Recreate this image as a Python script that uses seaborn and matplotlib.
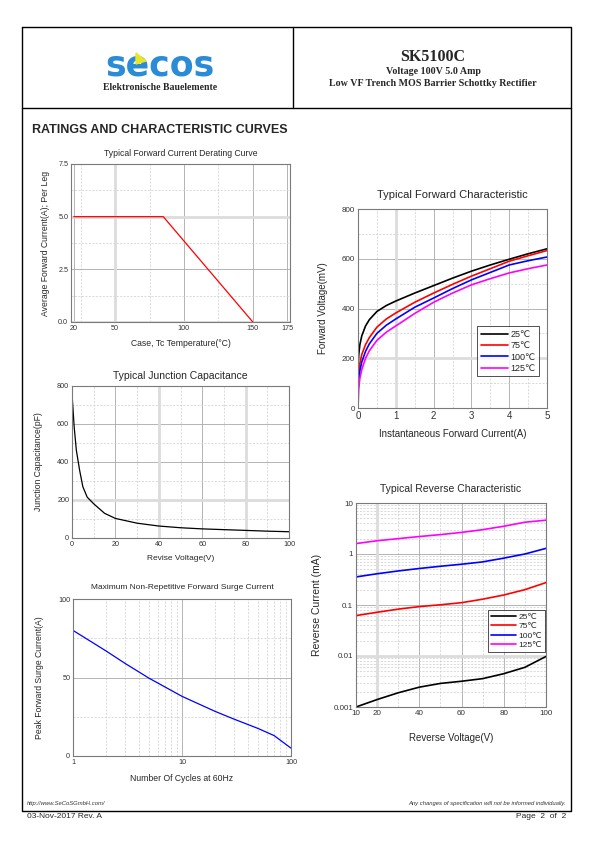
import numpy as np
import pandas as pd
import matplotlib
matplotlib.use('Agg')
import matplotlib.pyplot as plt
import seaborn as sns
from matplotlib.ticker import NullFormatter

# ---- data ----
# derating curve
derate_temp = [20, 85, 150]
derate_curr = [5.0, 5.0, 0.0]

# forward characteristic (current A -> voltage mV)
fwd_current = [0, 0.02, 0.05, 0.1, 0.2, 0.3, 0.5, 0.75, 1, 1.5, 2, 2.5, 3, 3.5, 4, 4.5, 5]
fwd_25 = [165, 215, 255, 290, 330, 355, 388, 412, 430, 462, 492, 522, 550, 575, 598, 620, 640]
fwd_75 = [95, 140, 180, 215, 255, 283, 325, 358, 382, 425, 462, 497, 530, 560, 590, 612, 633]
fwd_100 = [60, 110, 150, 185, 228, 258, 300, 333, 358, 405, 442, 480, 515, 545, 575, 592, 607]
fwd_125 = [0, 80, 120, 155, 200, 230, 272, 305, 330, 380, 425, 462, 495, 520, 543, 560, 575]
temp_labels = ['25\u2103', '75\u2103', '100\u2103', '125\u2103']
temp_colors = ['black', '#ff0000', '#0000ff', '#ff00ff']

# junction capacitance
cap_volt = [0, 1, 2, 3.5, 5, 7, 10, 15, 20, 30, 40, 50, 60, 70, 80, 90, 100]
cap_pf = [760, 585, 462, 357, 270, 215, 180, 130, 103, 78, 63, 54, 48, 44, 40, 36, 33]

# surge current
surge_cycles = [1, 2, 3, 5, 10, 20, 30, 50, 70, 100]
surge_amp = [80, 67, 59, 49.5, 38, 28.5, 23.5, 17.5, 13, 5]

# reverse characteristic (voltage V -> current mA)
rev_volt = [10, 20, 30, 40, 50, 60, 70, 80, 90, 100]
rev_25 = [0.001, 0.0014, 0.0019, 0.00245, 0.0029, 0.0032, 0.0036, 0.0045, 0.006, 0.0098]
rev_75 = [0.062, 0.072, 0.083, 0.093, 0.101, 0.111, 0.13, 0.157, 0.2, 0.275]
rev_100 = [0.355, 0.41, 0.465, 0.52, 0.575, 0.63, 0.7, 0.83, 1.0, 1.29]
rev_125 = [1.6, 1.82, 2.0, 2.2, 2.4, 2.65, 3.0, 3.5, 4.2, 4.6]

W, H = 595, 842
sns.set_style('white')
plt.rcParams['font.family'] = ['Liberation Sans', 'DejaVu Sans']
fig = plt.figure(figsize=(W / 100, H / 100), dpi=100)

# page furniture drawn in pixel coordinates
bg = fig.add_axes([0, 0, 1, 1])
bg.set_xlim(0, W)
bg.set_ylim(H, 0)
bg.axis('off')
lk = dict(color='black', lw=1.0)
bg.plot([22, 571, 571, 22, 22], [27, 27, 811, 811, 27], **lk)
bg.plot([22, 571], [108, 108], **lk)
bg.plot([293, 293], [27, 108], **lk)

serif = ['Liberation Serif', 'DejaVu Serif']
bg.text(160, 75, 'secos', ha='center', va='baseline', fontsize=25, fontweight='heavy',
        family='DejaVu Sans', color='#2a8bd6')
bg.fill([136, 146, 136], [53, 61, 64], color='#e6e62a', zorder=5)
bg.text(160, 87, 'Elektronische Bauelemente', ha='center', va='center', fontsize=7,
        fontweight='bold', family=serif)
bg.text(433, 57, 'SK5100C', ha='center', va='center', fontsize=11.5, fontweight='bold', family=serif)
bg.text(433, 71, 'Voltage 100V 5.0 Amp', ha='center', va='center', fontsize=7.2,
        fontweight='bold', family=serif)
bg.text(433, 83, 'Low VF Trench MOS Barrier Schottky Rectifier', ha='center', va='center',
        fontsize=7.2, fontweight='bold', family=serif)
bg.text(32, 130, 'RATINGS AND CHARACTERISTIC CURVES', ha='left', va='center', fontsize=9,
        fontweight='bold')
bg.text(27, 803, 'http://www.SeCoSGmbH.com/', ha='left', va='center', fontsize=4.2,
        style='italic', color='#333333')
bg.text(566, 803, 'Any changes of specification will not be informed individually.', ha='right',
        va='center', fontsize=4.2, style='italic', color='#333333')
bg.text(27, 817, '03-Nov-2017 Rev. A', ha='left', va='center', fontsize=6)
bg.text(566, 817, 'Page  2  of  2', ha='right', va='center', fontsize=6)


def make_ax(left, top, right, bottom):
    ax = fig.add_axes([left / W, 1 - bottom / H, (right - left) / W, (bottom - top) / H])
    for s in ax.spines.values():
        s.set_color('#7a7a7a')
        s.set_linewidth(0.8)
    ax.tick_params(which='both', length=0, labelsize=5.2, colors='#333333', pad=2)
    return ax


def grids(ax, light_x=(), light_y=()):
    ax.grid(which='major', color='#a8a8a8', lw=0.6, ls='-')
    ax.grid(which='minor', color='#cccccc', lw=0.5, ls=(0, (3, 2)))
    for v in light_x:
        ax.axvline(v, color='#dcdcdc', lw=2.0, zorder=1)
    for v in light_y:
        ax.axhline(v, color='#dcdcdc', lw=2.0, zorder=1)
    ax.set_axisbelow(True)


# 1. derating curve
ax1 = make_ax(71, 164, 290, 322)
sns.lineplot(x=derate_temp, y=derate_curr, ax=ax1, color='#ff0000', lw=0.9)
ax1.set_xlim(18, 177)
ax1.set_ylim(0, 7.5)
ax1.set_xticks([20, 50, 100, 150, 175])
ax1.set_xticks([25, 75, 125], minor=True)
ax1.set_yticks([0, 2.5, 5.0, 7.5])
ax1.set_yticklabels(['0.0', '2.5', '5.0', '7.5'])
ax1.set_yticks([1.25, 3.75, 6.25], minor=True)
grids(ax1, light_x=[50], light_y=[0, 5.0])
ax1.set_title('Typical Forward Current Derating Curve', fontsize=6.2, pad=6)
ax1.set_xlabel('Case, Tc Temperature(\u00b0C)', fontsize=6.2, labelpad=5)
ax1.set_ylabel('Average Forward Current(A); Per Leg', fontsize=6.2, labelpad=6)

# 2. forward characteristic
ax2 = make_ax(358, 209, 547, 408)
for vals, lab, col in zip([fwd_25, fwd_75, fwd_100, fwd_125], temp_labels, temp_colors):
    sns.lineplot(x=fwd_current, y=vals, ax=ax2, color=col, lw=1.2, label=lab)
ax2.set_xlim(0, 5)
ax2.set_ylim(0, 800)
ax2.set_xticks(range(0, 6))
ax2.set_xticks(np.arange(0.5, 5, 1.0), minor=True)
ax2.set_yticks(range(0, 801, 200))
ax2.set_yticks(range(100, 800, 200), minor=True)
grids(ax2, light_x=[1], light_y=[200])
ax2.set_title('Typical Forward Characteristic', fontsize=8, pad=8)
ax2.set_xlabel('Instantaneous Forward Current(A)', fontsize=7, labelpad=6)
ax2.set_ylabel('Forward Voltage(mV)', fontsize=7, labelpad=10)
ax2.tick_params(axis='y', labelsize=5.8)
ax2.tick_params(axis='x', labelsize=7)
leg = ax2.legend(loc='upper left', bbox_to_anchor=(0.63, 0.41), fontsize=6.5, frameon=True,
                 fancybox=False, edgecolor='black', handlelength=3.0, handletextpad=0.3,
                 labelspacing=0.25, borderpad=0.4, borderaxespad=0)
leg.get_frame().set_linewidth(0.6)

# 3. junction capacitance
ax3 = make_ax(72, 386, 289, 538)
sns.lineplot(x=cap_volt, y=cap_pf, ax=ax3, color='black', lw=0.9)
ax3.set_xlim(0, 100)
ax3.set_ylim(0, 800)
ax3.set_xticks(range(0, 101, 20))
ax3.set_xticks(range(10, 100, 20), minor=True)
ax3.set_yticks(range(0, 801, 200))
ax3.set_yticks(range(100, 800, 200), minor=True)
grids(ax3, light_x=[40, 80], light_y=[200])
ax3.set_title('Typical Junction Capacitance', fontsize=7.5, pad=5)
ax3.set_xlabel('Revise Voltage(V)', fontsize=6, labelpad=5)
ax3.set_ylabel('Junction Capacitance(pF)', fontsize=6.2, labelpad=10)

# 4. surge current
ax4 = make_ax(73, 599, 291, 756)
sns.lineplot(x=surge_cycles, y=surge_amp, ax=ax4, color='#0000ff', lw=0.9)
ax4.set_xscale('log')
ax4.set_xlim(1, 100)
ax4.set_ylim(0, 100)
ax4.set_xticks([1, 10, 100])
ax4.set_xticklabels(['1', '10', '100'])
ax4.set_xticks([2, 3, 4, 5, 6, 7, 8, 9, 20, 30, 40, 50, 60, 70, 80, 90], minor=True)
ax4.xaxis.set_minor_formatter(NullFormatter())
ax4.set_yticks([0, 50, 100])
ax4.set_yticks([25, 75], minor=True)
grids(ax4)
ax4.set_title('Maximum Non-Repetitive Forward Surge Current', fontsize=6, pad=7)
ax4.set_xlabel('Number Of Cycles at 60Hz', fontsize=6.2, labelpad=6)
ax4.set_ylabel('Peak Forward Surge Current(A)', fontsize=6.2, labelpad=10)

# 5. reverse characteristic
ax5 = make_ax(356, 503, 546, 707)
for vals, lab, col in zip([rev_25, rev_75, rev_100, rev_125], temp_labels, temp_colors):
    sns.lineplot(x=rev_volt, y=vals, ax=ax5, color=col, lw=1.2, label=lab)
ax5.set_yscale('log')
ax5.set_xlim(10, 100)
ax5.set_ylim(0.001, 10)
ax5.set_xticks([10, 20, 40, 60, 80, 100])
ax5.set_xticks([30, 50, 70, 90], minor=True)
ax5.set_yticks([0.001, 0.01, 0.1, 1, 10])
ax5.set_yticklabels(['0.001', '0.01', '0.1', '1', '10'])
ax5.set_yticks([m * d for d in [0.001, 0.01, 0.1, 1] for m in range(2, 10)], minor=True)
ax5.yaxis.set_minor_formatter(NullFormatter())
grids(ax5, light_x=[20], light_y=[0.01])
ax5.tick_params(labelsize=5.8)
ax5.set_title('Typical Reverse Characteristic', fontsize=7.5, pad=8)
ax5.set_xlabel('Reverse Voltage(V)', fontsize=7, labelpad=12)
ax5.set_ylabel('Reverse Current (mA)', fontsize=7.5, labelpad=8)
leg5 = ax5.legend(loc='upper left', bbox_to_anchor=(0.695, 0.475), fontsize=6, frameon=True,
                  fancybox=False, edgecolor='black', handlelength=3.0, handletextpad=0.3,
                  labelspacing=0.2, borderpad=0.35, borderaxespad=0)
leg5.get_frame().set_linewidth(0.6)

fig.savefig('out.png', dpi=100)
